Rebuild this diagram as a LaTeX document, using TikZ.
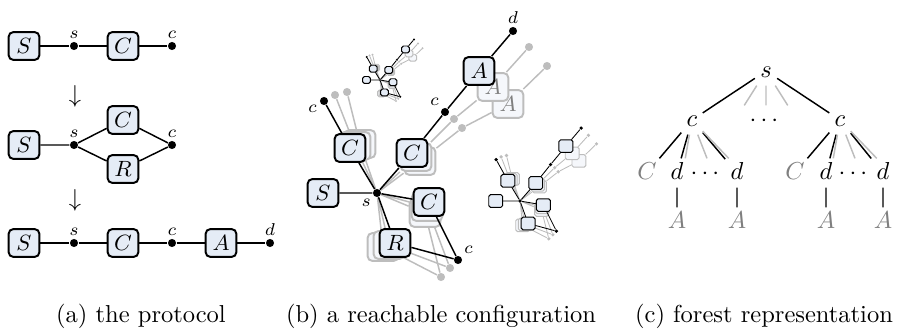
\documentclass[tikz,border=0pt]{standalone}
\usepackage{latexsym,amsmath,amssymb}
\usepackage{tikz}
\usetikzlibrary{positioning}

\definecolor{boxfill}{HTML}{E5ECF6}
\definecolor{ghostfill}{HTML}{F5F7FB}
\definecolor{ghost}{HTML}{BDBDBD}
\definecolor{leafgray}{HTML}{7F7F7F}

\pgfdeclarelayer{ghostwires}
\pgfdeclarelayer{ghostboxes}
\pgfdeclarelayer{wires}
\pgfsetlayers{ghostwires,ghostboxes,wires,main}

\tikzset{
  agent/.style={draw, thick, rounded corners=2pt, fill=boxfill, minimum width=12.6pt, minimum height=11.4pt, inner sep=0pt, font=\small},
  ghostagent/.style={agent, draw=ghost, fill=ghostfill, text=gray},
  valdot/.style={circle, fill, inner sep=0pt, minimum size=3.3pt},
  ghostdot/.style={valdot, fill=ghost},
  wire/.style={semithick},
  ghostwire/.style={semithick, draw=ghost},
  lbl/.style={font=\scriptsize, inner sep=1pt},
  tnode/.style={inner sep=2pt, text height=1.5ex, text depth=.25ex},
  leaf/.style={text=leafgray},
  fullcfg/.style={},
  minicfg/.style={agent/.append style={line width=0.4pt, rounded corners=0.7pt},
    wire/.append style={line width=0.35pt}, ghostwire/.append style={line width=0.35pt}},
}

% one configuration: #1 name prefix, #2 position of s, #3 scale, #4 texts shown (1/0), #5 style
\newcommand{\reachconf}[5]{%
  \ifnum#4=1 \def\cfgtxt##1{$##1$}\tikzset{cfglbl/.style={label={[lbl]##1}}}%
  \else \def\cfgtxt##1{}\tikzset{cfglbl/.style={}}\fi
  \begin{scope}[shift={#2}, scale=#3, transform shape, #5]
    \begin{pgfonlayer}{ghostboxes}
      \node[ghostagent] (#1C1g2) at (-17,-49) {};
      \node[ghostagent] (#1C1g1) at (-22,-47) {};
      \node[ghostdot] (#1c1g2) at (-30,-101) {};
      \node[ghostdot] (#1c1g1) at (-42,-98) {};
      \node[ghostagent] (#1C2g2) at (43,-32) {};
      \node[ghostagent] (#1C2g1) at (39,-36) {};
      \node[ghostdot] (#1c2g2) at (85,-65) {};
      \node[ghostdot] (#1c2g1) at (77,-74) {};
      \node[ghostagent] (#1Ag2) at (131,-89) {\cfgtxt{A}};
      \node[ghostagent] (#1Ag1) at (116,-106) {\cfgtxt{A}};
      \node[ghostdot] (#1dg2) at (170,-127) {};
      \node[ghostdot] (#1dg1) at (152,-146) {};
      \node[ghostagent] (#1C3g2) at (48,20) {};
      \node[ghostagent] (#1C3g1) at (50,14) {};
      \node[ghostagent] (#1Rg2) at (6,54) {};
      \node[ghostagent] (#1Rg1) at (12,52) {};
      \node[ghostdot] (#1c3g2) at (64,84) {};
      \node[ghostdot] (#1c3g1) at (73,75) {};
    \end{pgfonlayer}
    \node[valdot, cfglbl={225:$s$}] (#1s) at (0,0) {};
    \node[agent] (#1S) at (-54,0) {\cfgtxt{S}};
    \node[agent] (#1C1) at (-27,-45) {\cfgtxt{C}};
    \node[valdot, cfglbl={200:$c$}] (#1c1) at (-53,-92) {};
    \node[agent] (#1C2) at (35,-40) {\cfgtxt{C}};
    \node[valdot, cfglbl={135:$c$}] (#1c2) at (68,-81) {};
    \node[agent] (#1A) at (102,-122) {\cfgtxt{A}};
    \node[valdot, cfglbl={above:$d$}] (#1d) at (136,-162) {};
    \node[agent] (#1C3) at (52,9) {\cfgtxt{C}};
    \node[agent] (#1R) at (18,50) {\cfgtxt{R}};
    \node[valdot, cfglbl={45:$c$}] (#1c3) at (81,67) {};
    \begin{pgfonlayer}{ghostwires}
      \draw[ghostwire] (#1s) -- (#1C1g1) -- (#1c1g1) (#1s) -- (#1C1g2) -- (#1c1g2);
      \draw[ghostwire] (#1s) -- (#1C2g1) -- (#1c2g1) -- (#1Ag1) -- (#1dg1);
      \draw[ghostwire] (#1s) -- (#1C2g2) -- (#1c2g2) -- (#1Ag2) -- (#1dg2);
      \draw[ghostwire] (#1s) -- (#1C3g1) -- (#1c3g1) (#1s) -- (#1C3g2) -- (#1c3g2);
      \draw[ghostwire] (#1s) -- (#1Rg1) -- (#1c3g1) (#1s) -- (#1Rg2) -- (#1c3g2);
    \end{pgfonlayer}
    \begin{pgfonlayer}{wires}
      \draw[wire] (#1S) -- (#1s) -- (#1C1) -- (#1c1);
      \draw[wire] (#1s) -- (#1C2) -- (#1c2) -- (#1A) -- (#1d);
      \draw[wire] (#1s) -- (#1C3) -- (#1c3);
      \draw[wire] (#1s) -- (#1R) -- (#1c3);
    \end{pgfonlayer}
  \end{scope}}

\begin{document}
\begin{tikzpicture}[x=0.408pt, y=-0.408pt]
  \useasboundingbox (0,0) rectangle (898,329);

  % (a) the protocol
  \node[agent] (S1) at (24,46) {$S$};
  \node[valdot, label={[lbl]above:$s$}] (s1) at (74,46) {};
  \node[agent] (C1) at (123,46) {$C$};
  \node[valdot, label={[lbl]above:$c$}] (c1) at (172,46) {};
  \draw[wire] (S1) -- (s1) -- (C1) -- (c1);
  \node (step1) at (75,96) {$\downarrow$};

  \node[agent] (S2) at (24,145) {$S$};
  \node[valdot, label={[lbl]above:$s$}] (s2) at (74,145) {};
  \node[agent] (C2) at (123,120) {$C$};
  \node[agent] (R2) at (123,169) {$R$};
  \node[valdot, label={[lbl]above:$c$}] (c2) at (172,145) {};
  \draw[wire] (S2) -- (s2) -- (C2) -- (c2) -- (R2) -- (s2);
  \node (step2) at (75,200) {$\downarrow$};

  \node[agent] (S3) at (24,243) {$S$};
  \node[valdot, label={[lbl]above:$s$}] (s3) at (74,243) {};
  \node[agent] (C3) at (123,243) {$C$};
  \node[valdot, label={[lbl]above:$c$}] (c3) at (172,243) {};
  \node[agent] (A3) at (221,243) {$A$};
  \node[valdot, label={[lbl]above:$d$}] (d3) at (270,243) {};
  \draw[wire] (S3) -- (s3) -- (C3) -- (c3) -- (A3) -- (d3);

  % (b) a reachable configuration
  \reachconf{cfg}{(377,193)}{1}{1}{fullcfg}
  \reachconf{mini}{(380,80)}{0.25}{0}{minicfg}
  \reachconf{midi}{(520,201)}{0.45}{0}{minicfg}

  % (c) forest representation
  \node[tnode] (ts) at (766,71) {$s$};
  \node[tnode] (tcl) at (692,120) {$c$};
  \node[tnode] (tmid) at (766,120) {$\cdots$};
  \node[tnode] (tcr) at (840,120) {$c$};
  \node[tnode, leaf] (tCl) at (647,173) {$C$};
  \node[tnode] (tdl1) at (677,173) {$d$};
  \node[tnode] (tml) at (707,173) {$\cdots$};
  \node[tnode] (tdl2) at (737,173) {$d$};
  \node[tnode, leaf] (tAl1) at (677,222) {$A$};
  \node[tnode, leaf] (tAl2) at (737,222) {$A$};
  \node[tnode, leaf] (tCr) at (795,173) {$C$};
  \node[tnode] (tdr1) at (826,173) {$d$};
  \node[tnode] (tmr) at (855,173) {$\cdots$};
  \node[tnode] (tdr2) at (883,173) {$d$};
  \node[tnode, leaf] (tAr1) at (826,222) {$A$};
  \node[tnode, leaf] (tAr2) at (883,222) {$A$};
  \draw[wire] (tcl) -- (ts) -- (tcr);
  \draw[ghostwire] (ts) -- (tmid.north west) (ts) -- (tmid.north) (ts) -- (tmid.north east);
  \draw[wire] (tCl) -- (tcl) -- (tdl1) (tcl) -- (tdl2) (tdl1) -- (tAl1) (tdl2) -- (tAl2);
  \draw[ghostwire] (tcl) -- (tml.north west) (tcl) -- (tml.north) (tcl) -- (tml.north east);
  \draw[wire] (tCr) -- (tcr) -- (tdr1) (tcr) -- (tdr2) (tdr1) -- (tAr1) (tdr2) -- (tAr2);
  \draw[ghostwire] (tcr) -- (tmr.north west) (tcr) -- (tmr.north) (tcr) -- (tmr.north east);

  % captions
  \node (capa) at (141,316) {(a) the protocol};
  \node (capb) at (441,316) {(b) a reachable configuration};
  \node (capc) at (764,316) {(c) forest representation};
\end{tikzpicture}
\end{document}
